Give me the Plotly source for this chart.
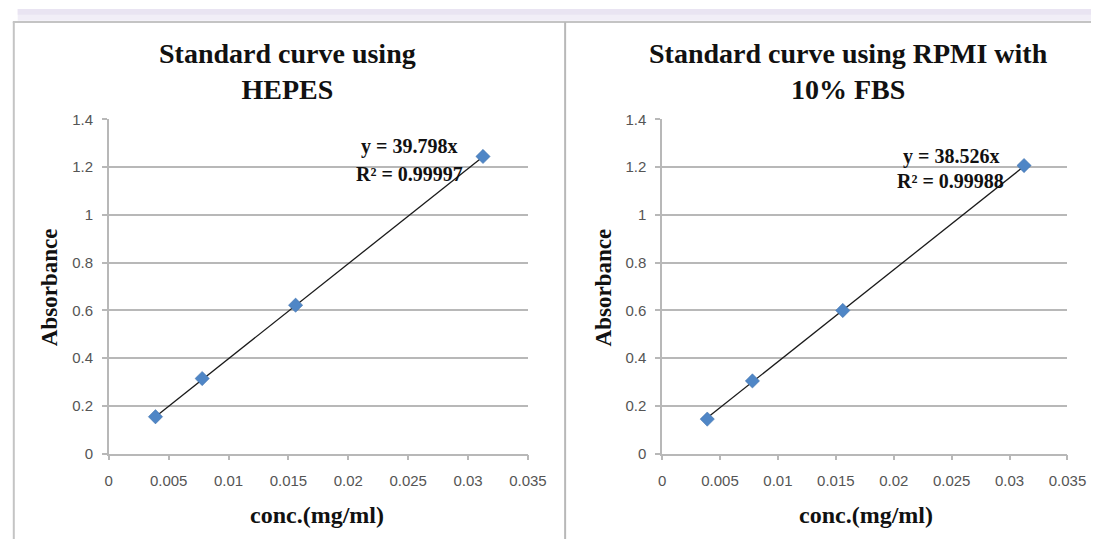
import plotly.graph_objects as go

# ---- data ----
conc = [0.0039, 0.0078, 0.0156, 0.03125]
abs_hepes = [0.155, 0.315, 0.622, 1.245]
abs_rpmi = [0.145, 0.305, 0.600, 1.207]
slope_hepes = 39.798
slope_rpmi = 38.526
eq_hepes = ["y = 39.798x", "R² = 0.99997"]
eq_rpmi = ["y = 38.526x", "R² = 0.99988"]
titles = ["Standard curve using<br>HEPES", "Standard curve using RPMI with<br>10% FBS"]
x_title = "conc.(mg/ml)"
y_title = "Absorbance"

W, H = 1110, 547
def px(x):
    return x / W
def py(y):
    return 1 - y / H

serif = "Liberation Serif, Times New Roman, serif"
sans = "Liberation Sans, Arial, sans-serif"
marker_col = "#4f86c6"
grid_col = "#b8b8b8"

fig = go.Figure()

panels = [
    dict(x="x", y="y", ys=abs_hepes, slope=slope_hepes),
    dict(x="x2", y="y2", ys=abs_rpmi, slope=slope_rpmi),
]

for p in panels:
    xs_line = [conc[0], conc[-1]]
    ys_line = [p["slope"] * v for v in xs_line]
    fig.add_trace(go.Scatter(x=xs_line, y=ys_line, mode="lines", xaxis=p["x"], yaxis=p["y"],
                             line=dict(color="#1a1a1a", width=1.3), showlegend=False, hoverinfo="skip"))
    fig.add_trace(go.Scatter(x=conc, y=p["ys"], mode="markers", xaxis=p["x"], yaxis=p["y"],
                             marker=dict(symbol="diamond", size=11, color=marker_col,
                                         line=dict(color="#3f6fa8", width=0.5)),
                             showlegend=False))

axis_common_x = dict(range=[0, 0.035], dtick=0.005, tick0=0, showgrid=False, zeroline=False,
                     showline=True, linecolor=grid_col, linewidth=1.5, ticks="outside", ticklen=5,
                     tickcolor=grid_col, tickwidth=1.5,
                     tickfont=dict(family=sans, size=15, color="#555555"), ticklabelstandoff=8,
                     fixedrange=True)
axis_common_y = dict(range=[0, 1.4], dtick=0.2, tick0=0, showgrid=True, gridcolor=grid_col, gridwidth=1.5,
                     zeroline=False, showline=True, linecolor=grid_col, linewidth=1.5, ticks="outside",
                     ticklen=5, tickcolor=grid_col, tickwidth=1.5,
                     tickfont=dict(family=sans, size=15, color="#555555"), ticklabelstandoff=6,
                     fixedrange=True)

ydom = [py(459), py(114)]
fig.update_layout(
    width=W, height=H, margin=dict(l=0, r=0, t=0, b=0),
    paper_bgcolor="white", plot_bgcolor="white",
    xaxis=dict(domain=[px(107), px(535)], anchor="y", **axis_common_x),
    yaxis=dict(domain=ydom, anchor="x", **axis_common_y),
    xaxis2=dict(domain=[px(672), px(1086)], anchor="y2", **axis_common_x),
    yaxis2=dict(domain=ydom, anchor="x2", **axis_common_y),
)

ann = []
for cx, t in [(290, titles[0]), (862, titles[1])]:
    ann.append(dict(x=px(cx), y=py(65), xref="paper", yref="paper", text="<b>" + t + "</b>", showarrow=False,
                    font=dict(family=serif, size=28, color="#111111"), xanchor="center", yanchor="middle"))
for cx in [320, 880]:
    ann.append(dict(x=px(cx), y=py(522), xref="paper", yref="paper", text=f"<b>{x_title}</b>", showarrow=False,
                    font=dict(family=serif, size=24, color="#111111"), xanchor="center", yanchor="middle"))
for cx in [46, 612]:
    ann.append(dict(x=px(cx), y=py(287), xref="paper", yref="paper", text=f"<b>{y_title}</b>", showarrow=False,
                    textangle=-90, font=dict(family=serif, size=23, color="#111111"),
                    xanchor="center", yanchor="middle"))
for (cx, y1, y2, eq) in [(414, 142, 170, eq_hepes), (967, 152, 178, eq_rpmi)]:
    ann.append(dict(x=px(cx), y=py(y1), xref="paper", yref="paper", text=f"<b>{eq[0]}</b>", showarrow=False,
                    font=dict(family=serif, size=20, color="#111111"), xanchor="center", yanchor="middle"))
    ann.append(dict(x=px(cx), y=py(y2), xref="paper", yref="paper", text=f"<b>{eq[1]}</b>", showarrow=False,
                    font=dict(family=serif, size=20, color="#111111"), xanchor="center", yanchor="middle"))
fig.update_layout(annotations=ann)

shapes = [
    dict(type="rect", xref="paper", yref="paper", x0=px(14), x1=1, y0=py(12), y1=1,
         fillcolor="#f1eef7", line=dict(width=0), layer="below"),
    dict(type="rect", xref="paper", yref="paper", x0=px(14), x1=1, y0=py(6), y1=1,
         fillcolor="#e9e4f2", line=dict(width=0), layer="below"),
    dict(type="line", xref="paper", yref="paper", x0=px(9), x1=1, y0=py(13.5), y1=py(13.5),
         line=dict(color="#c4c4c4", width=2)),
    dict(type="line", xref="paper", yref="paper", x0=px(10), x1=px(10), y0=0, y1=py(13.5),
         line=dict(color="#c4c4c4", width=2)),
    dict(type="line", xref="paper", yref="paper", x0=px(573), x1=px(573), y0=0, y1=py(13.5),
         line=dict(color="#b8b8b8", width=2)),
]
fig.update_layout(shapes=shapes)

fig.write_html("out.html")
